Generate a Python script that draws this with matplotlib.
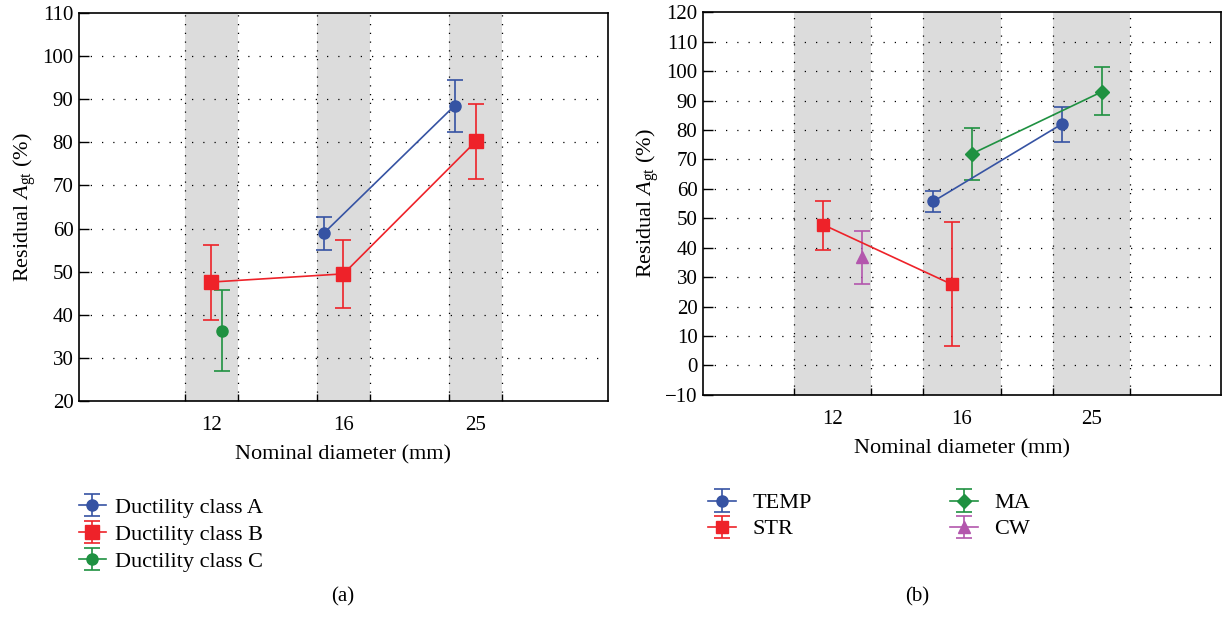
import matplotlib
matplotlib.use("Agg")
import matplotlib.pyplot as plt
from matplotlib.ticker import FixedLocator

plt.rcParams['font.family'] = ['Liberation Serif', 'DejaVu Serif']
plt.rcParams['mathtext.fontset'] = 'custom'
plt.rcParams['mathtext.rm'] = 'Liberation Serif'
plt.rcParams['mathtext.it'] = 'Liberation Serif:italic'

# categories
diameters = ['12', '16', '25']

# panel (a): ductility classes  (x position = category index + small offset)
a_x = [0.85, 1.84]
a_y = [58.9, 88.5]
a_lo = [55.1, 82.5]
a_hi = [62.6, 94.5]

b_x = [0.0, 1.0, 2.0]
b_y = [47.6, 49.5, 80.2]
b_lo = [38.8, 41.7, 71.5]
b_hi = [56.2, 57.3, 89.0]

c_x = [0.08]
c_y = [36.3]
c_lo = [27.0]
c_hi = [45.8]

# panel (b): treatments
temp_x = [0.78, 1.77]
temp_y = [55.8, 82.0]
temp_lo = [52.3, 76.1]
temp_hi = [59.3, 87.8]

str_x = [-0.07, 0.92]
str_y = [47.8, 27.6]
str_lo = [39.4, 6.6]
str_hi = [56.0, 48.7]

ma_x = [1.08, 2.08]
ma_y = [72.0, 93.0]
ma_lo = [63.0, 85.1]
ma_hi = [80.8, 101.3]

cw_x = [0.23]
cw_y = [37.0]
cw_lo = [27.6]
cw_hi = [45.8]

BLUE = '#3653a3'
RED = '#ee2229'
GREEN = '#1f9141'
MAGENTA = '#b356ad'
BAND = '#dcdcdc'


def errs(y, lo, hi):
    return [[v - l for v, l in zip(y, lo)], [h - v for v, h in zip(y, hi)]]


def setup_axes(ax, ylim, yticks, half):
    ax.set_xlim(-1, 3)
    ax.set_ylim(*ylim)
    edges = []
    for i in range(len(diameters)):
        ax.axvspan(i - half, i + half, color=BAND, lw=0, zorder=0)
        edges += [i - half, i + half]
    for e in edges:
        ax.axvline(e, color='k', lw=0.9, ls=(0, (1, 6)), zorder=1)
    for t in yticks[1:-1]:
        ax.axhline(t, color='k', lw=0.9, ls=(0, (1, 8)), zorder=1)
    ax.set_xticks(range(len(diameters)))
    ax.set_xticklabels(diameters, fontsize=15)
    ax.xaxis.set_minor_locator(FixedLocator(edges))
    ax.tick_params(axis='x', which='major', length=0, pad=11)
    ax.tick_params(axis='x', which='minor', direction='in', length=5, width=1)
    ax.set_yticks(yticks)
    ax.set_yticklabels([str(t).replace('-', '\u2212') for t in yticks], fontsize=15)
    ax.tick_params(axis='y', direction='in', length=7, width=1, pad=4)
    for s in ax.spines.values():
        s.set_linewidth(1.2)
    ax.set_xlabel('Nominal diameter (mm)', fontsize=16, labelpad=7)
    ax.set_ylabel(r'Residual $\mathit{A}_{\mathrm{gt}}$ (%)', fontsize=16, labelpad=3)


def ebar(ax, x, y, lo, hi, color, marker, ms, label):
    return ax.errorbar(x, y, yerr=errs(y, lo, hi), color=color, marker=marker,
                       ms=ms, lw=1.2, elinewidth=1.2, capsize=6, capthick=1.2,
                       mec=color, label=label, zorder=3)


fig = plt.figure(figsize=(12.23, 6.18), dpi=100)
ax1 = fig.add_axes([0.0646, 0.351, 0.4325, 0.628])
ax2 = fig.add_axes([0.5748, 0.361, 0.4235, 0.619])

setup_axes(ax1, (20, 110), list(range(20, 111, 10)), 0.2)
h1 = [ebar(ax1, a_x, a_y, a_lo, a_hi, BLUE, 'o', 8, 'Ductility class A'),
      ebar(ax1, b_x, b_y, b_lo, b_hi, RED, 's', 10, 'Ductility class B'),
      ebar(ax1, c_x, c_y, c_lo, c_hi, GREEN, 'o', 8, 'Ductility class C')]

setup_axes(ax2, (-10, 120), list(range(-10, 121, 10)), 0.3)
h2 = [ebar(ax2, temp_x, temp_y, temp_lo, temp_hi, BLUE, 'o', 8, 'TEMP'),
      ebar(ax2, str_x, str_y, str_lo, str_hi, RED, 's', 8, 'STR'),
      ebar(ax2, ma_x, ma_y, ma_lo, ma_hi, GREEN, 'D', 7, 'MA'),
      ebar(ax2, cw_x, cw_y, cw_lo, cw_hi, MAGENTA, '^', 9, 'CW')]

fig.legend(handles=h1, loc='upper left', bbox_to_anchor=(0.057, 0.21),
           frameon=False, fontsize=16, handlelength=1.25, handletextpad=0.4,
           labelspacing=0.3, borderaxespad=0)
fig.legend(handles=h2, loc='upper left', bbox_to_anchor=(0.572, 0.217),
           frameon=False, fontsize=16, handlelength=1.25, handletextpad=0.75,
           labelspacing=0.25, ncol=2, columnspacing=6.2, borderaxespad=0)

fig.text(0.28, 0.027, '(a)', ha='center', fontsize=15)
fig.text(0.75, 0.027, '(b)', ha='center', fontsize=15)

fig.savefig('out.png', dpi=100)
